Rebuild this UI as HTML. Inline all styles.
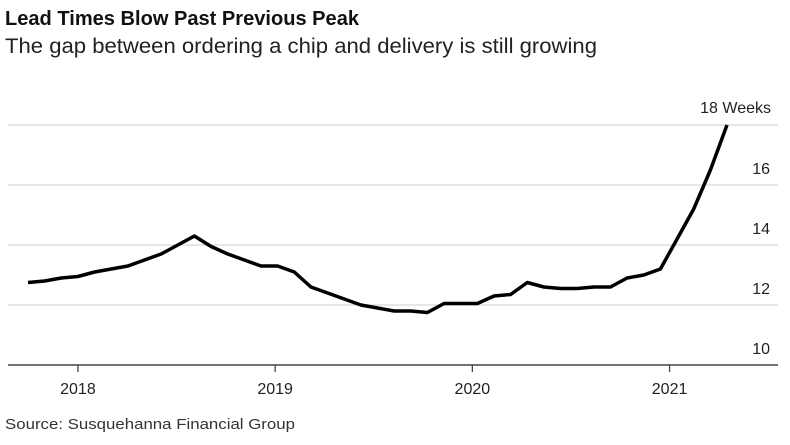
<!DOCTYPE html>
<html><head><meta charset="utf-8"><style>
body{margin:0;background:#fff;width:790px;height:440px;overflow:hidden;font-family:"Liberation Sans",sans-serif}
</style></head><body>
<svg width="790" height="440">
<text x="5" y="25" font-size="20" font-weight="bold" fill="#111" textLength="354" lengthAdjust="spacingAndGlyphs">Lead Times Blow Past Previous Peak</text>
<text x="5" y="53" font-size="21" fill="#222" textLength="592" lengthAdjust="spacingAndGlyphs">The gap between ordering a chip and delivery is still growing</text>
<g id="grid"></g><g id="xax"></g>
<path id="line" fill="none" stroke="#000" stroke-width="3.5" stroke-linejoin="round"/>
<text x="771" y="113" font-size="16" text-anchor="end" fill="#222">18 Weeks</text>
<text x="5" y="429" font-size="15" fill="#333" textLength="290" lengthAdjust="spacingAndGlyphs">Source: Susquehanna Financial Group</text>
</svg>
<script>
const values=[12.75,12.8,12.9,12.95,13.1,13.2,13.3,13.5,13.7,14.0,14.3,13.95,13.7,13.5,13.3,13.3,13.1,12.6,12.4,12.2,12.0,11.9,11.8,11.8,11.75,12.05,12.05,12.05,12.3,12.35,12.75,12.6,12.55,12.55,12.6,12.6,12.9,13.0,13.2,14.2,15.2,16.5,18.0];
const yTicks=[10,12,14,16];
const xTickLabels=["2018","2019","2020","2021"];
const xTickIdx=[3,15,27,39];
const ns="http://www.w3.org/2000/svg";
function x(i){return 28+i*(727-28)/42;}
function y(v){return 365-(v-10)*30;}
const g=document.getElementById('grid');
[...yTicks,18].forEach(v=>{
 if(v!==10){const l=document.createElementNS(ns,'line');
 l.setAttribute('x1',8);l.setAttribute('x2',778);l.setAttribute('y1',y(v));l.setAttribute('y2',y(v));
 l.setAttribute('stroke','#d6d6d6');l.setAttribute('stroke-width','1.2');
 
 
 g.appendChild(l);}
 if(v!==18){const t=document.createElementNS(ns,'text');
 t.setAttribute('x',770);t.setAttribute('y',y(v)-11);t.setAttribute('text-anchor','end');
 t.setAttribute('font-size','16');t.setAttribute('fill','#222');t.textContent=v;
 
 
 g.appendChild(t);}
});
const xa=document.getElementById('xax');
const ax=document.createElementNS(ns,'line');
ax.setAttribute('x1',8);ax.setAttribute('x2',778);ax.setAttribute('y1',365);ax.setAttribute('y2',365);
ax.setAttribute('stroke','#444');ax.setAttribute('stroke-width','1.5');


xa.appendChild(ax);
xTickLabels.forEach((lab,k)=>{
 const px=x(xTickIdx[k])-(k*2.5);
 const tk=document.createElementNS(ns,'line');
 tk.setAttribute('x1',px);tk.setAttribute('x2',px);tk.setAttribute('y1',365);tk.setAttribute('y2',372);
 tk.setAttribute('stroke','#444');tk.setAttribute('stroke-width','1.3');
 
 
 xa.appendChild(tk);
 const t=document.createElementNS(ns,'text');
 t.setAttribute('x',px);t.setAttribute('y',394);t.setAttribute('text-anchor','middle');
 t.setAttribute('font-size','16');t.setAttribute('fill','#222');t.textContent=lab;
 
 
 xa.appendChild(t);
});
document.getElementById('line').setAttribute('d',values.map((v,i)=>(i?'L':'M')+x(i).toFixed(1)+','+y(v).toFixed(1)).join(''));
</script>
</body></html>
